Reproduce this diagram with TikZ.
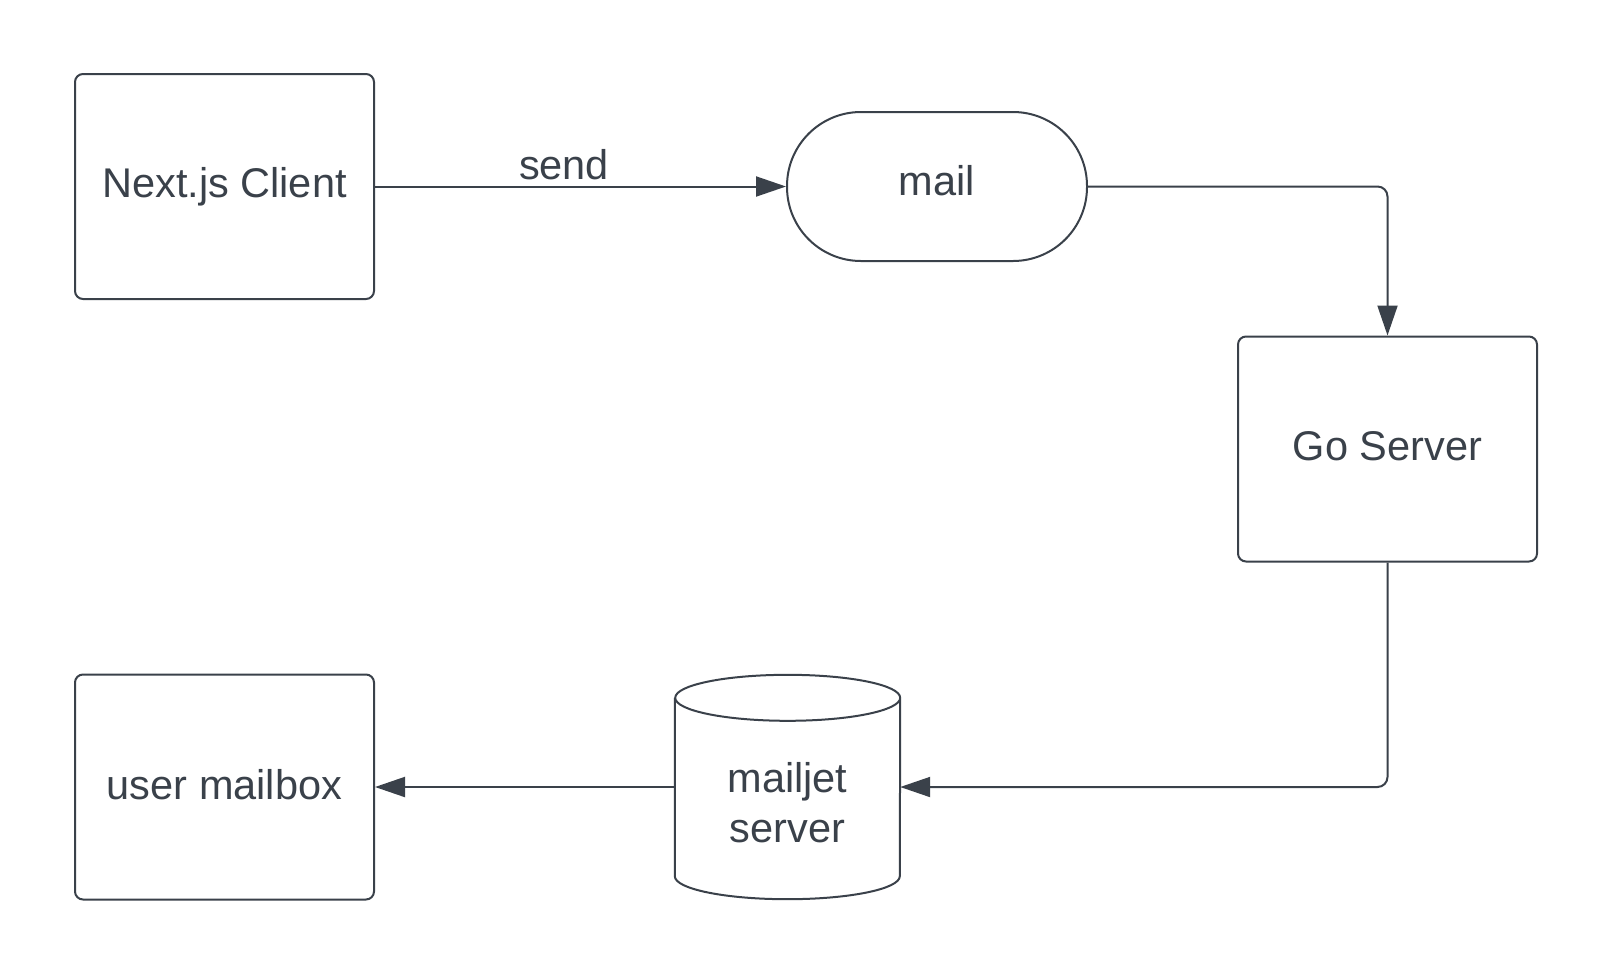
\documentclass[tikz,border=0pt]{standalone}
\usepackage{fontspec}
\setmainfont{Liberation Sans}
\usetikzlibrary{arrows.meta,calc}
\definecolor{line_grey}{RGB}{58, 65, 74}
\tikzstyle{box}=[rectangle,rounded corners=8pt,draw=line_grey,fill=white,
  line width=2pt,minimum width=299pt,minimum height=225pt,text=line_grey,
  font=\fontsize{41.5}{48}\selectfont]
\tikzstyle{pill}=[rectangle,rounded corners=74pt,draw=line_grey,fill=white,
  line width=2pt,minimum width=300pt,minimum height=149pt,text=line_grey,
  font=\fontsize{41.5}{48}\selectfont,text depth=12pt]
\tikzstyle{drum}=[rectangle,minimum width=225pt,minimum height=224pt,inner sep=0pt]
\tikzstyle{txt}=[text=line_grey,font=\fontsize{41.5}{48}\selectfont,align=center]
\tikzstyle{wire}=[draw=line_grey,line width=2pt,rounded corners=10pt,
  -{Triangle[length=30pt,width=20pt]}]
\tikzstyle{none}=[]

\begin{document}
\begin{tikzpicture}[x=1pt, y=-1pt]
        \useasboundingbox (0, 0) rectangle (1613, 975);
        \node [style=box] (0) at (224.5, 186.5) {Next.js Client};
		\node [style=pill] (1) at (937, 186.5) {mail};
		\node [style=box, text depth=6pt] (2) at (1387.5, 449) {Go Server};
		\node [style=drum] (3) at (787.5, 787) {};
		\node [style=box, text depth=6pt] (4) at (224.5, 787) {user mailbox};
		% cylinder outline
		\draw [draw=line_grey, line width=2pt]
		  ($(3.north west)+(0,23)$) -- ($(3.south west)+(0,-23)$)
		  arc [start angle=180, end angle=360, x radius=112.5, y radius=-23]
		  -- ($(3.north east)+(0,23)$)
		  arc [start angle=0, end angle=360, x radius=112.5, y radius=-23];
		\node [style=txt] (5) at (787.5, 803) {mailjet\\[2pt]server};
		\draw [style=wire] (0.east) to node [pos=0.46, above, txt, inner sep=6pt] {send} (1.west);
		\draw [style=wire] (1.east) -| (2.north);
		\draw [style=wire] (2.south) |- (3.east);
		\draw [style=wire] (3.west) to (4.east);
    \end{tikzpicture}
\end{document}
